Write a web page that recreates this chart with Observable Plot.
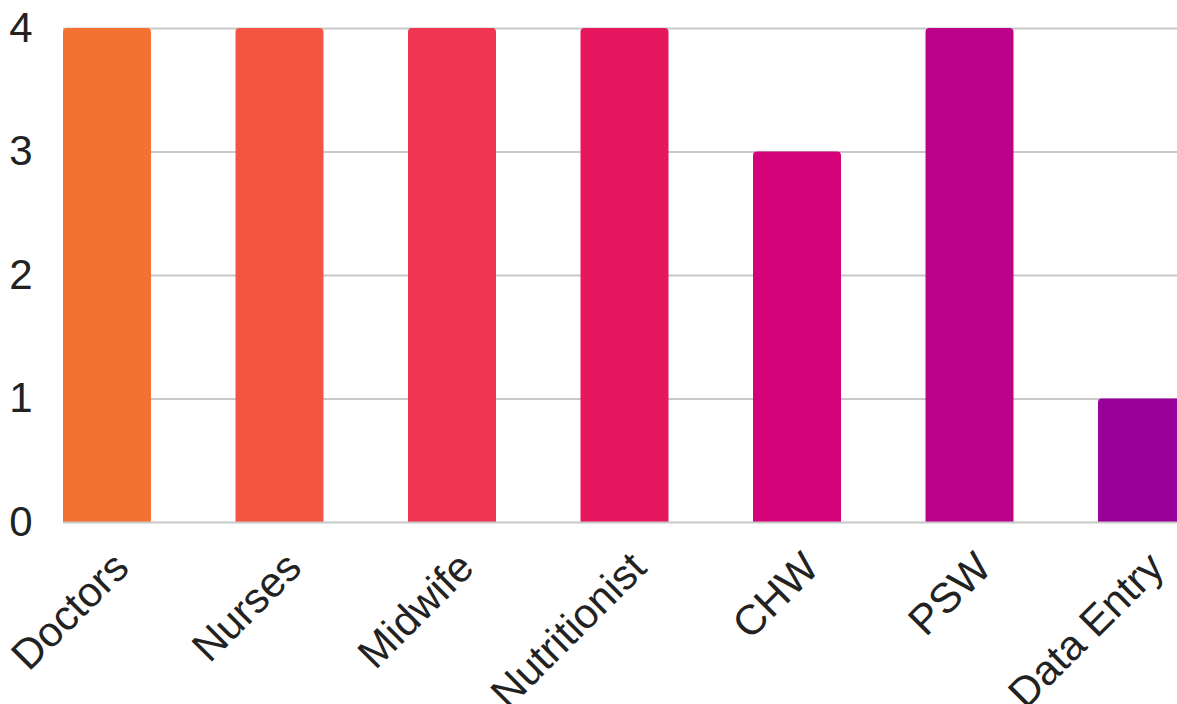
<!DOCTYPE html>
<html>
<head>
<meta charset="utf-8">
<script src="https://cdn.jsdelivr.net/npm/d3@7"></script>
<script src="https://cdn.jsdelivr.net/npm/@observablehq/plot@0.6"></script>
<style>
  html, body { margin: 0; padding: 0; background: #fff; overflow: hidden; }
  #chart svg { display: block; }
</style>
</head>
<body>
<div id="chart"></div>
<script>
// Staff counts by role
const roles = ["Doctors", "Nurses", "Midwife", "Nutritionist", "CHW", "PSW", "Data Entry"];
const counts = [4, 4, 4, 4, 3, 4, 1];
const roleColors = ["#F37231", "#F45543", "#EF3651", "#E6175F", "#D5037A", "#BC0289", "#980099"];
const yTicks = [0, 1, 2, 3, 4];

const data = roles.map((role, i) => ({role, count: counts[i]}));

const chart = Plot.plot({
  width: 1177,
  height: 704,
  marginLeft: 63,
  marginRight: 0,
  marginTop: 28,
  marginBottom: 182,
  style: {fontFamily: "'Liberation Sans', Arial, sans-serif", fontSize: "42px", color: "#222", background: "#fff"},
  // the band range runs past the right edge, so the last bar is cut by the frame
  x: {domain: roles, range: [63, 1186], paddingInner: 0.49, paddingOuter: 0, round: false, label: null},
  y: {domain: [0, 4], label: null},
  color: {domain: roles, range: roleColors},
  marks: [
    Plot.ruleY(yTicks.filter(t => t > 0), {stroke: "#c8c8c8", strokeWidth: 2}),
    // rounded tops; the rounded bottom corners fall outside the frame and are clipped
    Plot.barY(data, {x: "role", y: "count", fill: "role", rx: 4, insetBottom: -8, clip: true}),
    Plot.ruleY([0], {stroke: "#c8c8c8", strokeWidth: 2}),
    Plot.axisY({ticks: yTicks, tickSize: 0, tickPadding: 31, tickFormat: d => String(d), fontSize: 42, fill: "#222"}),
    Plot.axisX({tickSize: 0, tickRotate: -45, tickPadding: 38, dx: 14, fontSize: 42, fill: "#222"})
  ]
});

document.getElementById("chart").appendChild(chart);
</script>
</body>
</html>
